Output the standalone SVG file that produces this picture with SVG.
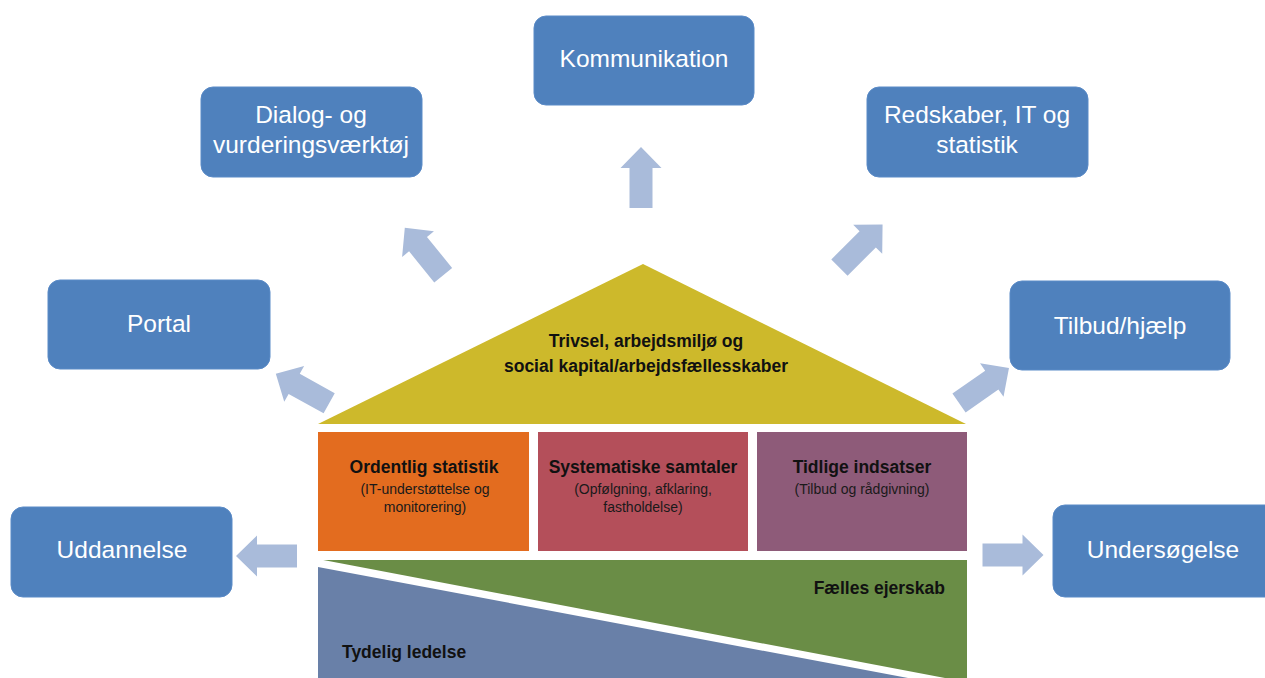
<svg xmlns="http://www.w3.org/2000/svg" width="1265" height="678" viewBox="0 0 1265 678">
<defs>
<style>
.box{fill:#4F81BD;stroke:#5B8BC7;stroke-width:1}
.bt{font-family:"Liberation Sans",Arial,sans-serif;font-size:24.5px;fill:#FFFFFF;text-anchor:middle}
.hb{font-family:"Liberation Sans",Arial,sans-serif;font-size:17.5px;font-weight:bold;fill:#111111;text-anchor:middle}
.hs{font-family:"Liberation Sans",Arial,sans-serif;font-size:14px;fill:#1a1a1a;text-anchor:middle}
.arr{fill:#A9BBDA}
</style>
<path id="ar" d="M0,-30.5 L20.5,-9.5 L11.5,-9.5 L11.5,30.5 L-11.5,30.5 L-11.5,-9.5 L-20.5,-9.5 Z"/>
</defs>
<rect width="1265" height="678" fill="#FFFFFF"/>

<g id="connectors">
<use href="#ar" class="arr" transform="translate(641,177.5)"/>
<use href="#ar" class="arr" transform="translate(424,251.5) rotate(-39)"/>
<use href="#ar" class="arr" transform="translate(861,246) rotate(45)"/>
<use href="#ar" class="arr" transform="translate(302.5,388.5) rotate(-61)"/>
<use href="#ar" class="arr" transform="translate(984,385.5) rotate(55)"/>
<use href="#ar" class="arr" transform="translate(266.5,556) rotate(-90)"/>
<use href="#ar" class="arr" transform="translate(1013,555) rotate(90)"/>
</g>

<g id="house">
<g id="roof">
<polygon points="643,264 318,424 966,424" fill="#CDB92B"/>
<text class="hb" x="646" y="347">Trivsel, arbejdsmiljø og</text>
<text class="hb" x="646" y="372">social kapital/arbejdsfællesskaber</text>
</g>
<g id="ordentlig">
<rect x="318" y="432" width="211" height="119" fill="#E36C1F"/>
<text class="hb" x="424" y="473">Ordentlig statistik</text>
<text class="hs" x="425" y="494">(IT-understøttelse og</text>
<text class="hs" x="425" y="512">monitorering)</text>
</g>
<g id="systematiske">
<rect x="538" y="432" width="210" height="119" fill="#B44F5A"/>
<text class="hb" x="643" y="473">Systematiske samtaler</text>
<text class="hs" x="643" y="494">(Opfølgning, afklaring,</text>
<text class="hs" x="643" y="512">fastholdelse)</text>
</g>
<g id="tidlige">
<rect x="757" y="432" width="210" height="119" fill="#8E5B79"/>
<text class="hb" x="862" y="473">Tidlige indsatser</text>
<text class="hs" x="862" y="494">(Tilbud og rådgivning)</text>
</g>
<g id="faelles">
<rect x="318" y="560" width="649" height="118" fill="#6A8D46"/>
<polygon points="318,559 945,678 318,678" fill="#FFFFFF"/>
<text class="hb" x="945" y="594" style="text-anchor:end">Fælles ejerskab</text>
</g>
<g id="tydelig">
<polygon points="318,567 318,678 908,678" fill="#6980A8"/>
<text class="hb" x="342" y="658" style="text-anchor:start">Tydelig ledelse</text>
</g>
</g>

<g id="kommunikation">
<rect class="box" x="534" y="16" width="220" height="89" rx="12"/>
<text class="bt" x="644" y="67">Kommunikation</text>
</g>
<g id="dialog">
<rect class="box" x="201" y="87" width="221" height="90" rx="12"/>
<text class="bt" x="311" y="123">Dialog- og</text>
<text class="bt" x="311" y="153">vurderingsværktøj</text>
</g>
<g id="redskaber">
<rect class="box" x="867" y="87" width="221" height="90" rx="12"/>
<text class="bt" x="977" y="123">Redskaber, IT og</text>
<text class="bt" x="977" y="153">statistik</text>
</g>
<g id="portal">
<rect class="box" x="48" y="280" width="222" height="89" rx="12"/>
<text class="bt" x="159" y="332">Portal</text>
</g>
<g id="tilbud">
<rect class="box" x="1010" y="281" width="220" height="89" rx="12"/>
<text class="bt" x="1120" y="334">Tilbud/hjælp</text>
</g>
<g id="uddannelse">
<rect class="box" x="11" y="507" width="221" height="90" rx="12"/>
<text class="bt" x="122" y="558">Uddannelse</text>
</g>
<g id="undersogelse">
<rect class="box" x="1053" y="505" width="224" height="92" rx="12"/>
<text class="bt" x="1163" y="558">Undersøgelse</text>
</g>
</svg>
